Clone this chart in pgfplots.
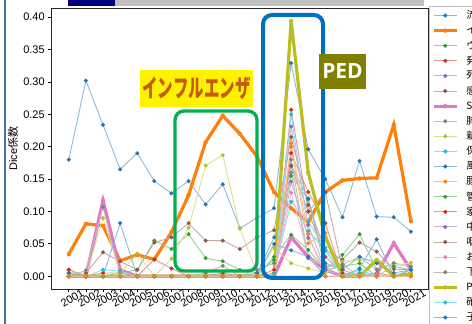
\documentclass[border=0pt]{standalone}
\usepackage{fontspec}
\setmainfont{Liberation Sans}
\newfontfamily\cjk{Noto Sans CJK JP}
\newfontfamily\opens{Open Sans}
\usepackage{pgfplots}
\usepackage{pgfplotstable}
\pgfplotsset{compat=1.18}
\definecolor{C0}{HTML}{1F77B4}
\definecolor{C1}{HTML}{FF7F0E}
\definecolor{C2}{HTML}{2CA02C}
\definecolor{C3}{HTML}{D62728}
\definecolor{C4}{HTML}{9467BD}
\definecolor{C5}{HTML}{8C564B}
\definecolor{C6}{HTML}{E377C2}
\definecolor{C7}{HTML}{7F7F7F}
\definecolor{C8}{HTML}{BCBD22}
\definecolor{C9}{HTML}{17BECF}
\definecolor{boxgreen}{HTML}{00B050}
\definecolor{boxblue}{HTML}{0070C0}
\definecolor{pedolive}{HTML}{808000}
\definecolor{txtorange}{HTML}{C55A11}
\definecolor{navy}{HTML}{000080}
\definecolor{barGray}{HTML}{C0C0C0}
\definecolor{leftblue}{HTML}{4A6FA5}
\pgfplotstableread{
year s1 s2 s3 s4 s5 s6 s7 s8 s9 s10 s11 s12 s13 s14 s15 s16 s17 s18 s19 s20 s21 s22
2001 0.180 0.034 0.010 0.010 0.005 0.005 0 0 0 0 0.005 0 0 0 0 0 0 0 0 0 0 0
2002 0.302 0.081 0 0 0 0.005 0 0.009 0 0 0 0 0 0 0 0 0 0 0 0 0 0
2003 0.234 0.078 0 0.005 0 0.037 0.117 0.107 0.090 0.010 0 0 0 0 0 0 0 0 0 0 0 0
2004 0.165 0.024 0.005 0.005 0 0.023 0.010 0 0.005 0.008 0.082 0 0 0 0 0 0 0 0 0 0 0
2005 0.190 0.033 0.010 0 0 0.010 0 0 0.035 0 0 0 0 0 0 0 0 0 0 0 0 0
2006 0.147 0.026 0.055 0.026 0 0.052 0 0 0 0 0 0 0 0 0 0 0 0 0 0 0 0
2007 0.128 0.068 0.042 0.012 0 0.060 0 0 0.027 0 0 0 0 0 0 0 0 0 0 0 0 0
2008 0.147 0.125 0.065 0 0 0.082 0 0 0.075 0 0 0 0 0 0 0 0 0 0 0 0 0
2009 0.111 0.207 0.028 0 0 0.055 0 0.005 0.171 0 0 0 0 0 0 0 0 0 0 0 0 0
2010 0.142 0.248 0.023 0.005 0 0.055 0 0.016 0.187 0 0 0 0 0 0 0 0 0 0 0 0 0
2011 0.074 0.220 0.010 0 0 0.042 0 0 0.074 0 0 0 0 0 0 0 0 0 0 0 0 0
2012 0.090 0.185 0.005 0 0 0.060 0 0.010 0.005 0 0.005 0 0 0 0 0 0 0 0 0 0 0
2013 0.105 0.130 0.025 0.010 0.005 0.071 0 0.020 0.044 0.005 0.060 0 0.030 0 0 0 0 0 0 0 0.050 0
2014 0.329 0.105 0.155 0.257 0.231 0.215 0.060 0.180 0.020 0.115 0.171 0.200 0.064 0.190 0.146 0.170 0.129 0.160 0.394 0.250 0.040 0.205
2015 0.196 0.084 0.119 0.100 0.079 0.110 0.030 0.028 0.012 0.084 0.120 0.051 0.041 0.130 0.059 0.100 0.032 0.028 0.160 0.070 0.030 0.065
2016 0.150 0.130 0.010 0.030 0.010 0.040 0.010 0.015 0.005 0.044 0.020 0.067 0.010 0.082 0.010 0.130 0 0.015 0.060 0.040 0 0
2017 0.091 0.148 0.033 0.005 0 0.026 0 0.018 0.023 0 0.010 0 0.015 0 0 0.010 0 0.018 0 0 0 0
2018 0.178 0.151 0.065 0 0.005 0.052 0 0.030 0.025 0.005 0.030 0 0.020 0 0 0 0 0 0 0.010 0.012 0
2019 0.092 0.152 0.010 0.005 0 0.038 0.003 0.010 0.025 0 0.020 0 0 0 0 0 0 0 0.025 0 0.057 0
2020 0.091 0.234 0.020 0 0 0.011 0.051 0.020 0.016 0 0.005 0 0.015 0 0 0 0 0 0 0 0 0
2021 0.069 0.085 0.015 0.005 0.005 0.010 0.010 0.015 0.021 0 0.010 0 0.010 0 0 0 0 0 0.004 0.010 0.010 0
}\data
\pgfplotsset{
  thinser/.style={color=#1!50!white, line width=0.9pt, mark=*, mark size=1.9pt,
    mark options={fill=#1, draw=#1, line width=0.3pt, solid}},
  thickser/.style={color=#1, line width=3.2pt, mark=*, mark size=2pt,
    mark options={fill=#1, draw=#1, line width=0.3pt, solid}},
}
\begin{document}
\begin{tikzpicture}[x=1pt,y=1pt]
\begin{axis}[
  at={(51.7pt,35pt)}, anchor=south west,
  width=376.3pt, height=280.7pt, scale only axis,
  xmin=2000, xmax=2022, ymin=-0.0197, ymax=0.4137,
  xtick={2001,2002,...,2021},
  ytick={0,0.05,0.10,0.15,0.20,0.25,0.30,0.35,0.40},
  tick pos=left, tick align=outside, major tick length=3.5pt,
  tick style={black, line width=0.8pt},
  axis line style={black!85, line width=0.8pt},
  /pgf/number format/assume math mode=true,
  ticklabel style={font=\fontsize{11}{13}\selectfont},
  xticklabel style={/pgf/number format/1000 sep={}, rotate=30, anchor=center, yshift=-7pt},
  yticklabel style={/pgf/number format/.cd, fixed, fixed zerofill, precision=2},
  ylabel={Dice{\cjk 係数}},
  ylabel style={at={(axis description cs:-0.103,0.5)}, anchor=center, font=\fontsize{11}{13}\selectfont},
  legend cell align=left,
  legend image code/.code={\draw[mark repeat=2,mark phase=2] plot coordinates {(0pt,0pt) (11.5pt,0pt) (23pt,0pt)};},
  legend style={at={(rel axis cs:1,1)}, anchor=north west, xshift=0.5pt, yshift=2.5pt,
    draw=black!25, fill=white, inner xsep=3.5pt, inner ysep=2pt, row sep=0pt, column sep=0pt,
    font=\cjk\fontsize{10}{10}\selectfont,
    nodes={inner ysep=0pt, inner xsep=8pt, minimum height=15.1pt}},
]
\addplot[thinser=C0] table[x=year,y=s1]{\data}; \addlegendentry{流}
\addplot[thickser=C1] table[x=year,y=s2]{\data}; \addlegendentry{イ}
\addplot[thinser=C2] table[x=year,y=s3]{\data}; \addlegendentry{ウ}
\addplot[thinser=C3] table[x=year,y=s4]{\data}; \addlegendentry{発}
\addplot[thinser=C4] table[x=year,y=s5]{\data}; \addlegendentry{死}
\addplot[thinser=C5] table[x=year,y=s6]{\data}; \addlegendentry{感}
\addplot[thickser=C6] table[x=year,y=s7]{\data}; \addlegendentry{S}
\addplot[thinser=C7] table[x=year,y=s8]{\data}; \addlegendentry{肺}
\addplot[thinser=C8] table[x=year,y=s9]{\data}; \addlegendentry{新}
\addplot[thinser=C9] table[x=year,y=s10]{\data}; \addlegendentry{保}
\addplot[thinser=C0] table[x=year,y=s11]{\data}; \addlegendentry{風}
\addplot[thinser=C1] table[x=year,y=s12]{\data}; \addlegendentry{豚}
\addplot[thinser=C2] table[x=year,y=s13]{\data}; \addlegendentry{管}
\addplot[thinser=C3] table[x=year,y=s14]{\data}; \addlegendentry{家}
\addplot[thinser=C4] table[x=year,y=s15]{\data}; \addlegendentry{中}
\addplot[thinser=C5] table[x=year,y=s16]{\data}; \addlegendentry{咽}
\addplot[thinser=C6] table[x=year,y=s17]{\data}; \addlegendentry{お}
\addplot[thinser=C7] table[x=year,y=s18]{\data}; \addlegendentry{下}
\addplot[thickser=C8] table[x=year,y=s19]{\data}; \addlegendentry{P}
\addplot[thinser=C9] table[x=year,y=s20]{\data}; \addlegendentry{確}
\addplot[thinser=C0] table[x=year,y=s21]{\data}; \addlegendentry{子}
\addplot[thinser=C1, forget plot] table[x=year,y=s22]{\data};
\end{axis}
% annotations
\fill[yellow] (140,217) rectangle (253,254);
\node[text=txtorange] at (196.5,235.5) {\cjk\bfseries\fontsize{25}{25}\selectfont\scalebox{0.62}[1]{インフルエンザ}};
\draw[boxgreen, line width=3.3pt, rounded corners=9pt] (175,53) rectangle (257,213);
\draw[boxblue, line width=4pt, rounded corners=9pt] (263,46) rectangle (323,309);
\fill[pedolive] (319,235) rectangle (366,270);
\node[white] at (342.5,252.5) {\opens\bfseries\fontsize{21}{21}\selectfont PED};
\fill[navy] (68,318.3) rectangle (115,330);
\fill[barGray] (115,318.3) rectangle (424,330);
\fill[leftblue] (3.5,0) rectangle (5.8,330);
\pgfresetboundingbox
\useasboundingbox (0,0) rectangle (472,324);
\end{tikzpicture}
\end{document}
